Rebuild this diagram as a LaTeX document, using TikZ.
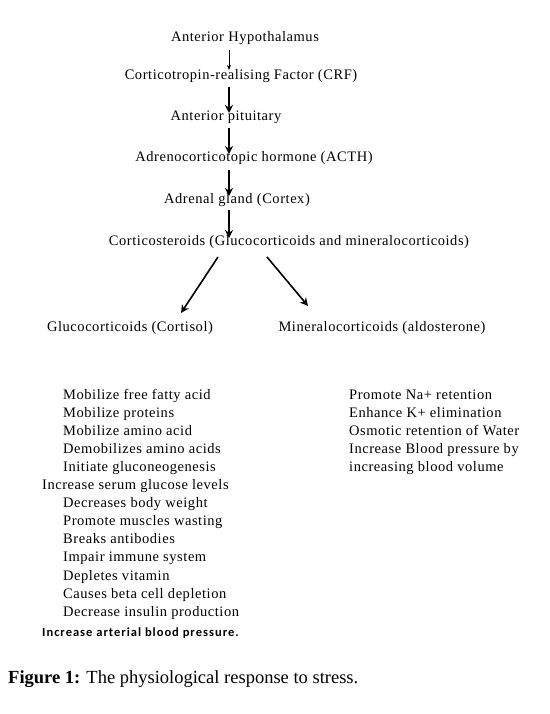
\documentclass[tikz,border=0pt]{standalone}
\usepackage{fontspec}
\setmainfont{Liberation Serif}[LetterSpace=3.8]
\newfontfamily\capfont{Carlito}[LetterSpace=8]
\newfontfamily\figfont{Liberation Serif}
\usetikzlibrary{arrows.meta}
\begin{document}
\begin{tikzpicture}[x=1pt,y=-1pt,
  lbl/.style={inner sep=0pt,font=\fontsize{14.5}{16}\selectfont},
  item/.style={lbl,anchor=base west},
  thin arrow/.style={draw,line width=0.9pt,-{Stealth[length=5pt,width=4pt]}},
  thick arrow/.style={draw,line width=2pt,-{Stealth[length=8pt,width=8pt]}}]
\useasboundingbox (0,0) rectangle (549,714);
\node[lbl] (ah) at (245,38) {Anterior Hypothalamus};
\node[lbl] (crf) at (241,76) {Corticotropin-realising Factor (CRF)};
\node[lbl] (ap) at (226,117) {Anterior pituitary};
\node[lbl] (acth) at (254,158) {Adrenocorticotopic hormone (ACTH)};
\node[lbl] (ag) at (237,200) {Adrenal gland (Cortex)};
\node[lbl] (cs) at (289,242) {Corticosteroids (Glucocorticoids and mineralocorticoids)};
\node[lbl] (gc) at (130,328) {Glucocorticoids (Cortisol)};
\node[lbl] (mc) at (382,328) {Mineralocorticoids (aldosterone)};
\coordinate (a1s) at (229,50); \coordinate (a1e) at (229,70);
\coordinate (a2s) at (229,87); \coordinate (a2e) at (229,113);
\coordinate (a3s) at (229,128); \coordinate (a3e) at (229,154);
\coordinate (a4s) at (229,170); \coordinate (a4e) at (229,196);
\coordinate (a5s) at (229,210); \coordinate (a5e) at (229,238);
\coordinate (l1s) at (218,257); \coordinate (l1e) at (181,313);
\coordinate (r1s) at (267,257); \coordinate (r1e) at (308,306);
\path[thin arrow] (a1s) -- (a1e);
\path[thick arrow] (a2s) -- (a2e);
\path[thick arrow] (a3s) -- (a3e);
\path[thick arrow] (a4s) -- (a4e);
\path[thick arrow] (a5s) -- (a5e);
\path[thick arrow,line width=1.6pt] (l1s) -- (l1e);
\path[thick arrow,line width=1.6pt] (r1s) -- (r1e);
\foreach \x/\t [count=\i] in {63/Mobilize free fatty acid, 63/Mobilize proteins, 63/Mobilize amino acid,
  63/Demobilizes amino acids, 63/Initiate gluconeogenesis, 42/Increase serum glucose levels,
  63/Decreases body weight, 63/Promote muscles wasting, 63/Breaks antibodies,
  63/Impair immune system, 63/Depletes vitamin, 63/Causes beta cell depletion,
  63/Decrease insulin production}
  \node[item] (g\i) at (\x,{399+18.1*(\i-1)}) {\t};
\node[inner sep=0pt,anchor=base west,font=\capfont\bfseries\fontsize{12.5}{14}\selectfont] (g14) at (42,636) {Increase arterial blood pressure.};
\foreach \t [count=\i] in {Promote Na+ retention, Enhance K+ elimination, Osmotic retention of Water,
  Increase Blood pressure by, increasing blood volume}
  \node[item] (m\i) at (349,{399+18.1*(\i-1)}) {\t};
\node[inner sep=0pt,anchor=base west,font=\figfont\fontsize{18.5}{21}\selectfont] (cap) at (8,683) {\textbf{Figure 1:} The physiological response to stress.};
\end{tikzpicture}
\end{document}
